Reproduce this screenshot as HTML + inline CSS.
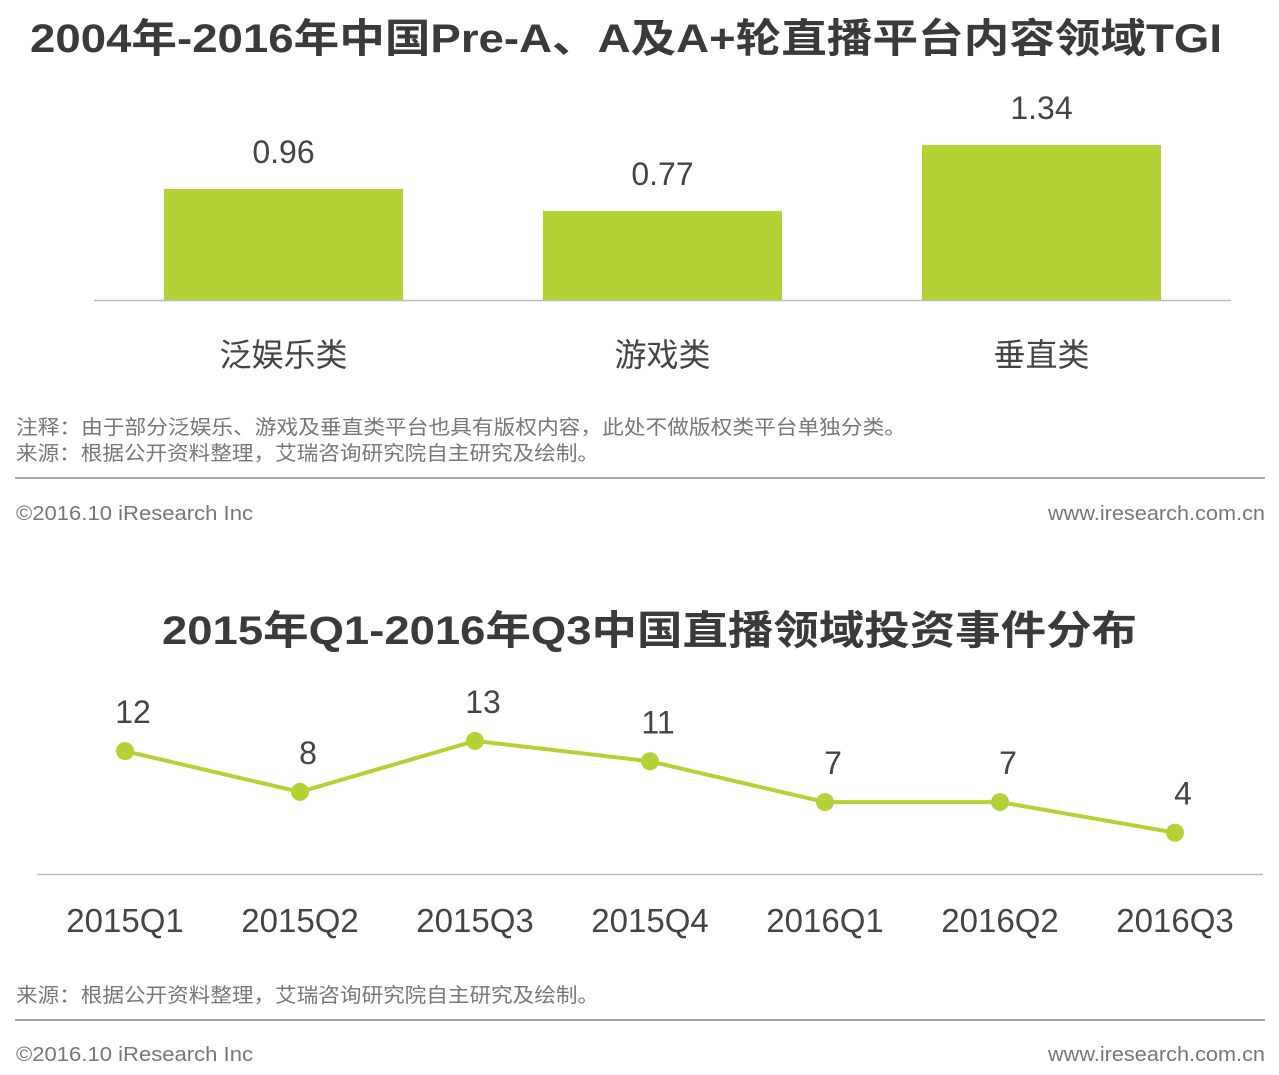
<!DOCTYPE html>
<html><head><meta charset="utf-8"><style>
body{margin:0;width:1279px;height:1075px;background:#fff;overflow:hidden;font-family:"Liberation Sans","Noto Sans CJK SC",sans-serif;}
svg{position:absolute;left:0;top:0}
</style></head><body>
<svg id="s" width="1279" height="1075">
<text x="30" y="52" textLength="1192" lengthAdjust="spacingAndGlyphs" font-size="40" font-weight="bold" fill="#3a3a3a" font-family="Liberation Sans,Noto Sans CJK SC,sans-serif">2004年-2016年中国Pre-A、A及A+轮直播平台内容领域TGI</text>
<line x1="94" y1="300.5" x2="1231" y2="300.5" stroke="#bbb" stroke-width="1.5"/>
<g id="bars"></g>
<text x="16" y="434" textLength="890" lengthAdjust="spacingAndGlyphs" font-size="20" fill="#777" font-family="Liberation Sans,Noto Sans CJK SC,sans-serif">注释：由于部分泛娱乐、游戏及垂直类平台也具有版权内容，此处不做版权类平台单独分类。</text>
<text x="16" y="460" textLength="583" lengthAdjust="spacingAndGlyphs" font-size="20" fill="#777" font-family="Liberation Sans,Noto Sans CJK SC,sans-serif">来源：根据公开资料整理，艾瑞咨询研究院自主研究及绘制。</text>
<line x1="15" y1="478" x2="1265" y2="478" stroke="#888" stroke-width="1.5"/>
<text x="16" y="520" textLength="237" lengthAdjust="spacingAndGlyphs" font-size="20" fill="#777">©2016.10 iResearch Inc</text>
<text x="1048" y="520" textLength="217" lengthAdjust="spacingAndGlyphs" font-size="20" fill="#777">www.iresearch.com.cn</text>

<text x="162" y="644" textLength="975" lengthAdjust="spacingAndGlyphs" font-size="40" font-weight="bold" fill="#3a3a3a" font-family="Liberation Sans,Noto Sans CJK SC,sans-serif">2015年Q1-2016年Q3中国直播领域投资事件分布</text>
<line x1="37" y1="874.5" x2="1263" y2="874.5" stroke="#bbb" stroke-width="1.5"/>
<g id="line"></g>
<text x="16" y="1002" textLength="583" lengthAdjust="spacingAndGlyphs" font-size="20" fill="#777" font-family="Liberation Sans,Noto Sans CJK SC,sans-serif">来源：根据公开资料整理，艾瑞咨询研究院自主研究及绘制。</text>
<line x1="15" y1="1020" x2="1265" y2="1020" stroke="#888" stroke-width="1.5"/>
<text x="16" y="1061" textLength="237" lengthAdjust="spacingAndGlyphs" font-size="20" fill="#777">©2016.10 iResearch Inc</text>
<text x="1048" y="1061" textLength="217" lengthAdjust="spacingAndGlyphs" font-size="20" fill="#777">www.iresearch.com.cn</text>
</svg>
<script>
const barCategories=["泛娱乐类","游戏类","垂直类"];
const barValues=[0.96,0.77,1.34];
const barLabels=["0.96","0.77","1.34"];
const lineCategories=["2015Q1","2015Q2","2015Q3","2015Q4","2016Q1","2016Q2","2016Q3"];
const lineValues=[12,8,13,11,7,7,4];

const NS="http://www.w3.org/2000/svg";
const G="#b2d235";
function mk(t,a,p,txt){const e=document.createElementNS(NS,t);for(const k in a)e.setAttribute(k,a[k]);if(txt!==undefined)e.textContent=txt;p.appendChild(e);return e;}
const FF="Liberation Sans,Noto Sans CJK SC,sans-serif";
const bg=document.getElementById('bars');
const yB=v=>300-v*115.7;
const xB=i=>164+i*379;
barValues.forEach((v,i)=>{
 const r=mk('rect',{x:xB(i),y:yB(v),width:239,height:300-yB(v),fill:G},bg);
 
 
 const t=mk('text',{x:xB(i)+119.5,y:yB(v)-26,'text-anchor':'middle','font-size':32,fill:'#444','font-family':FF},bg,barLabels[i]);
 
 
 const c=mk('text',{x:xB(i)+119.5,y:366,'text-anchor':'middle','font-size':32,fill:'#444','font-family':FF},bg,barCategories[i]);
 
 
});
const lg=document.getElementById('line');
const xL=i=>125+i*175;
const yL=v=>873.5-v*10.2;
const pl=mk('polyline',{points:lineValues.map((v,i)=>xL(i)+','+yL(v)).join(' '),fill:'none',stroke:G,'stroke-width':4},lg);


lineValues.forEach((v,i)=>{
 const c=mk('circle',{cx:xL(i),cy:yL(v),r:9,fill:G},lg);
 
 
 const t=mk('text',{x:xL(i)+8,y:yL(v)-28,'text-anchor':'middle','font-size':32,fill:'#444','font-family':FF},lg,String(v));
 
 
 const l=mk('text',{x:xL(i),y:932,'text-anchor':'middle','font-size':33,fill:'#444','font-family':FF},lg,lineCategories[i]);
 
 
});
</script>
</body></html>
